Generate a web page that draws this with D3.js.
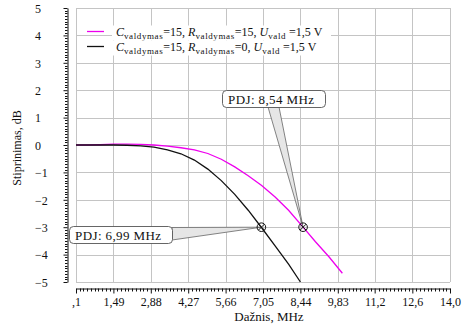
<!DOCTYPE html>
<html>
<head>
<meta charset="utf-8">
<script src="https://cdn.jsdelivr.net/npm/d3@7/dist/d3.min.js"></script>
<style>
	body { margin: 0; background: #fff; }
	svg text { font-family: 'Liberation Serif', 'Times New Roman', serif !important; fill: #111; }
</style>
</head>
<body>
<div id="vis"></div>
<script>
// data (MHz, dB)
var freqR15 = [ 0.1, 0.5, 1.0, 1.5, 2.0, 2.5, 3.0, 3.5, 4.0, 4.5, 5.0, 5.5, 6.0, 6.5, 7.0, 7.5, 8.0, 8.54, 9.0, 9.5, 10.0 ];
var gainR15 = [ 0, 0, 0.01, 0.03, 0.03, 0.02, 0, -0.04, -0.1, -0.18, -0.31, -0.52, -0.8, -1.12, -1.48, -1.9, -2.38, -3.0, -3.53, -4.08, -4.68 ];

var freqR0 = [ 0.1, 0.5, 1.0, 1.5, 2.0, 2.5, 3.0, 3.5, 4.0, 4.5, 5.0, 5.5, 6.0, 6.5, 7.0, 7.5, 8.0, 8.44 ];
var gainR0 = [ 0, 0, 0, 0, -0.01, -0.03, -0.08, -0.18, -0.32, -0.55, -0.88, -1.3, -1.8, -2.38, -3.02, -3.68, -4.35, -5.0 ];

// -3 dB points
var pdjFreq = [ 8.54, 6.99 ];
var pdjLabels = [ 'PDJ: 8,54 MHz', 'PDJ: 6,99 MHz' ];

var xTickValues = [ 0.1, 1.49, 2.88, 4.27, 5.66, 7.05, 8.44, 9.83, 11.2, 12.6, 14.0 ];
var xTickLabels = [ ',1', '1,49', '2,88', '4,27', '5,66', '7,05', '8,44', '9,83', '11,2', '12,6', '14,0' ];
var yTickValues = [ -5, -4, -3, -2, -1, 0, 1, 2, 3, 4, 5 ];

var width = 468,
	height = 333;
var plot = { left: 76, right: 450, top: 8, bottom: 282 };

var svg = d3.select('#vis').append('svg').attr('width', width).attr('height', height);

var x = d3.scaleLinear().domain([ 0.1, 14.0 ]).range([ plot.left, plot.right ]);
var y = d3.scaleLinear().domain([ -5, 5 ]).range([ plot.bottom, plot.top ]);

// grid
var grid = svg.append('g').attr('stroke', '#c4c4c4').attr('stroke-width', 1);
grid
	.selectAll('.vg')
	.data(xTickValues)
	.enter()
	.append('line')
	.attr('x1', function(d) { return Math.round(x(d)) + 0.5; })
	.attr('x2', function(d) { return Math.round(x(d)) + 0.5; })
	.attr('y1', plot.top)
	.attr('y2', plot.bottom);
grid
	.selectAll('.hg')
	.data(yTickValues)
	.enter()
	.append('line')
	.attr('y1', function(d) { return Math.round(y(d)) + 0.5; })
	.attr('y2', function(d) { return Math.round(y(d)) + 0.5; })
	.attr('x1', plot.left)
	.attr('x2', plot.right);

// x axis, set below the plot
var xAxis = d3.axisBottom(x).tickValues(xTickValues).tickSize(5).tickSizeOuter(0).tickFormat(function(d, i) {
	return xTickLabels[i];
});
var gx = svg.append('g').attr('transform', 'translate(0,288.5)').call(xAxis);
gx.attr('font-family', null);
gx.select('.domain').attr('stroke', '#111');
gx.selectAll('.tick line').attr('stroke', '#111');
gx.selectAll('.tick text').attr('font-size', 12).attr('dy', 0).attr('y', 17);
var xMinor = [];
for (var i = 0; i < xTickValues.length - 1; i++) {
	for (var k = 1; k < 10; k++) xMinor.push(0.1 + 1.39 * i + 0.139 * k);
}
gx
	.selectAll('.minor')
	.data(xMinor)
	.enter()
	.append('line')
	.attr('stroke', '#111')
	.attr('x1', function(d) { return Math.round(x(d)) + 0.5; })
	.attr('x2', function(d) { return Math.round(x(d)) + 0.5; })
	.attr('y1', 0)
	.attr('y2', 3);

// y axis, set left of the plot
var yAxis = d3.axisLeft(y).tickValues(yTickValues).tickSize(4).tickSizeOuter(0).tickFormat(function(d) {
	return d < 0 ? '\u2212' + Math.abs(d) : String(d);
});
var gy = svg.append('g').attr('transform', 'translate(67.5,0)').call(yAxis);
gy.attr('font-family', null);
gy.select('.domain').attr('stroke', '#111');
gy.selectAll('.tick line').attr('stroke', '#111');
gy
	.selectAll('.tick text')
	.attr('font-size', 12)
	.attr('text-anchor', 'start')
	.attr('x', -32.5)
	.attr('dy', '0.35em');
var yMinor = [];
for (var j = -5; j < 5; j++) {
	for (var m = 1; m < 10; m++) yMinor.push(j + m / 10);
}
gy
	.selectAll('.minor')
	.data(yMinor)
	.enter()
	.append('line')
	.attr('stroke', '#111')
	.attr('x1', -2.5)
	.attr('x2', 0)
	.attr('y1', function(d) { return Math.round(y(d)) + 0.5; })
	.attr('y2', function(d) { return Math.round(y(d)) + 0.5; });

// axis titles
svg
	.append('text')
	.attr('transform', 'translate(21,148) rotate(-90)')
	.attr('text-anchor', 'middle')
	.attr('font-size', 12)
	.text('Stiprinimas, dB');
svg
	.append('text')
	.attr('x', 269)
	.attr('y', 321)
	.attr('text-anchor', 'middle')
	.attr('font-size', 13)
	.text('Dažnis, MHz');

// curves
var line = d3
	.line()
	.x(function(d) { return x(d[0]); })
	.y(function(d) { return y(d[1]); });

var seriesR15 = d3.zip(freqR15, gainR15);
var seriesR0 = d3.zip(freqR0, gainR0);

svg.append('path').datum(seriesR15).attr('d', line).attr('fill', 'none').attr('stroke', '#ee00ee').attr('stroke-width', 1.3);
svg.append('path').datum(seriesR0).attr('d', line).attr('fill', 'none').attr('stroke', '#111').attr('stroke-width', 1.3);

// legend
var legend = [
	{ color: '#ee00ee', r: '15', yy: 31 },
	{ color: '#111', r: '0', yy: 46 }
];
legend.forEach(function(d) {
	svg.append('line').attr('x1', 87).attr('x2', 104).attr('y1', d.yy + 0.5).attr('y2', d.yy + 0.5).attr('stroke', d.color).attr('stroke-width', 1.3);
	svg.append('rect').attr('x', 112).attr('y', d.yy - 5.5).attr('width', 219).attr('height', 15).attr('fill', '#fff');
	var t = svg.append('text').attr('x', 116).attr('y', d.yy + 4.5).attr('font-size', 12);
	var parts = [
		[ 'C', 'i' ], [ 'valdymas', 's' ], [ '=15, ', 'n' ],
		[ 'R', 'i' ], [ 'valdymas', 's' ], [ '=' + d.r + ', ', 'n' ],
		[ 'U', 'i' ], [ 'vald', 's' ], [ ' =1,5 V', 'n' ]
	];
	var down = false;
	parts.forEach(function(p) {
		var ts = t.append('tspan').text(p[0]);
		if (p[1] === 'i') ts.attr('font-style', 'italic');
		if (p[1] === 's') {
			ts.attr('font-size', 9).attr('letter-spacing', 0.6).attr('dy', 3);
			down = true;
		} else if (down) {
			ts.attr('dy', -3);
			down = false;
		}
	});
});

// callouts for the -3 dB points
var callouts = [
	{ f: pdjFreq[0], label: pdjLabels[0], bx: 222.5, by: 90.5, bw: 103, wedge: [ [ 268, 107 ], [ 279, 107 ] ] },
	{ f: pdjFreq[1], label: pdjLabels[1], bx: 69.5, by: 226.5, bw: 103, wedge: [ [ 172, 227.5 ], [ 172, 240 ] ] }
];
callouts.forEach(function(c) {
	var px = x(c.f),
		py = y(-3);
	svg
		.append('path')
		.attr('d', 'M' + c.wedge[0] + 'L' + px + ',' + py + 'L' + c.wedge[1] + 'Z')
		.attr('fill', '#e6e6e6')
		.attr('stroke', '#666')
		.attr('stroke-width', 0.8);
	svg
		.append('rect')
		.attr('x', c.bx)
		.attr('y', c.by)
		.attr('width', c.bw)
		.attr('height', 17)
		.attr('rx', 4)
		.attr('fill', '#fff')
		.attr('stroke', '#555')
		.attr('stroke-width', 0.9);
	svg
		.append('text')
		.attr('x', c.bx + 5.5)
		.attr('y', c.by + 13.5)
		.attr('font-size', 13)
		.attr('letter-spacing', 0.4)
		.text(c.label);
	// circle-with-cross marker
	var mk = svg.append('g').attr('transform', 'translate(' + px + ',' + py + ')').attr('stroke', '#111').attr('fill', 'none');
	mk.append('circle').attr('r', 4.3).attr('stroke-width', 1);
	mk.append('line').attr('x1', -3).attr('y1', -3).attr('x2', 3).attr('y2', 3);
	mk.append('line').attr('x1', -3).attr('y1', 3).attr('x2', 3).attr('y2', -3);
});
</script>
</body>
</html>
